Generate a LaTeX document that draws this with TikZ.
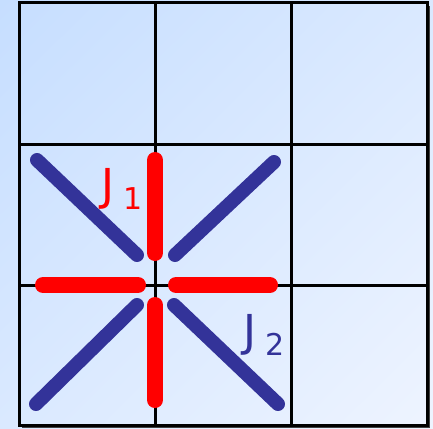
\documentclass[tikz,border=0pt]{standalone}
\usepackage{fontspec}
\setmainfont{DejaVu Sans}
\usetikzlibrary{shadings}
\definecolor{bgA}{RGB}{198,222,255}
\definecolor{bgB}{RGB}{238,244,255}
\definecolor{bgM}{RGB}{218,233,255}
\definecolor{jblue}{RGB}{51,51,153}
\definecolor{jred}{RGB}{255,0,0}
\begin{document}
\begin{tikzpicture}[x=1pt,y=-1pt,
  gridline/.style={black,line width=3pt},
  redbar/.style={jred,line width=16pt,line cap=round},
  bluebar/.style={jblue,line width=14pt,line cap=round},
  lbl/.style={inner sep=0pt,font=\fontsize{44}{44}\selectfont}]
\useasboundingbox (0,0) rectangle (433,428);
\shade[upper left=bgA,lower right=bgB,upper right=bgM,lower left=bgM] (0,0) rectangle (433,428);
% shadow
\fill[black!75] (426.5,6) rectangle (429.5,427);
\fill[black!75] (22,425) rectangle (429.5,427.5);
% grid
\coordinate (g00) at (19,3);
\coordinate (g11) at (427,425);
\draw[gridline] (g00) rectangle (g11);
\draw[gridline] (155,3) -- (155,425);
\draw[gridline] (291,3) -- (291,425);
\draw[gridline] (19,144) -- (427,144);
\draw[gridline] (19,285) -- (427,285);
% blue bars
\coordinate (ul1) at (37,160); \coordinate (ul2) at (137,255);
\coordinate (ur1) at (274,162); \coordinate (ur2) at (175,255);
\coordinate (ll1) at (137,305); \coordinate (ll2) at (36,404);
\coordinate (lr1) at (174,305); \coordinate (lr2) at (278,404);
\draw[bluebar] (ul1) -- (ul2);
\draw[bluebar] (ur1) -- (ur2);
\draw[bluebar] (ll1) -- (ll2);
\draw[bluebar] (lr1) -- (lr2);
% red bars
\coordinate (vt1) at (155,160); \coordinate (vt2) at (155,253);
\coordinate (vb1) at (155,305); \coordinate (vb2) at (155,400);
\coordinate (hl1) at (43,285); \coordinate (hl2) at (138,285);
\coordinate (hr1) at (176,285); \coordinate (hr2) at (270,285);
\draw[redbar] (vt1) -- (vt2);
\draw[redbar] (vb1) -- (vb2);
\draw[redbar] (hl1) -- (hl2);
\draw[redbar] (hr1) -- (hr2);
% labels
\node[lbl,text=jred,anchor=base west] (j1) at (101,200) {J\kern9pt\raisebox{-0.22em}{\fontsize{30}{30}\selectfont 1}};
\node[lbl,text=jblue,anchor=base west] (j2) at (243,346) {J\kern9pt\raisebox{-0.22em}{\fontsize{30}{30}\selectfont 2}};
\end{tikzpicture}
\end{document}
